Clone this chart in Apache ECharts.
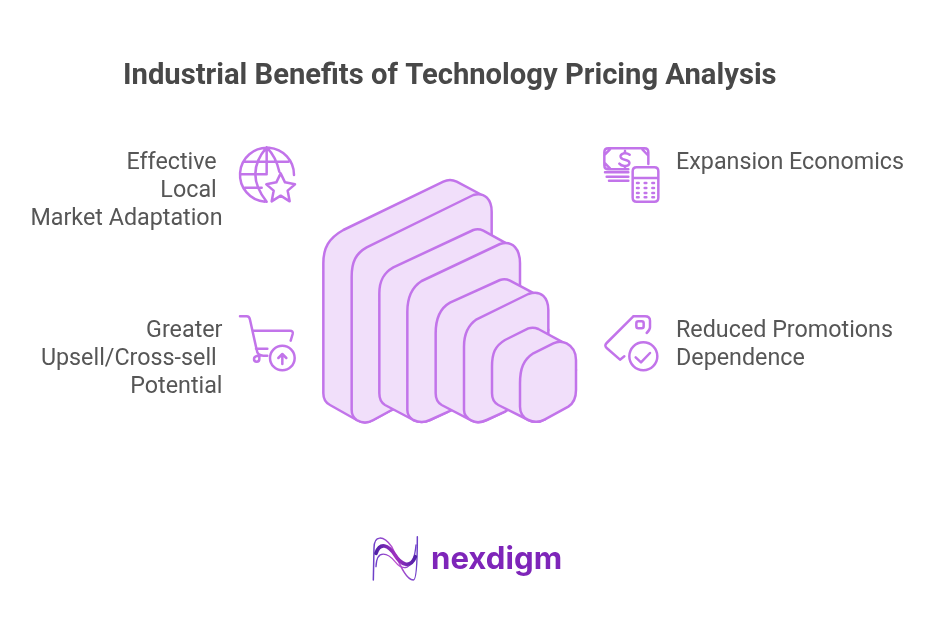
<!DOCTYPE html>
<html><head><meta charset="utf-8">
<style>html,body{margin:0;padding:0;background:#fff}#c{width:936px;height:625px}</style>
<script src="https://cdn.jsdelivr.net/npm/echarts@6/dist/echarts.min.js"></script>
</head><body><div id="c"></div>
<script>
const titleText = 'Industrial Benefits of Technology Pricing Analysis';
const leftLabels = ['Effective \nLocal \nMarket Adaptation', 'Greater\nUpsell/Cross-sell \nPotential'];
const rightLabels = ['Expansion Economics', 'Reduced Promotions\nDependence'];
const brandName = 'nexdigm';

const INK = '#C274EA', FILL = '#F1DFFA';

const blockBacks = [
 'M40 280C40 235 55 205 100 180L400 35Q420 25 440 35L510 72L545 300L245 720L190 750Q165 765 140 750L60 705Q40 695 40 670Z',
 'M208 370C208 330 222 308 250 292L490 180Q505 175 520 182L585 218L630 400L415 725L360 750Q335 762 310 750L225 705Q208 695 208 670Z',
 'M377 490C377 445 390 415 420 398L570 330Q585 325 600 332L668 368L715 480L585 725L530 750Q505 762 485 752L395 705Q377 695 377 670Z',
 'M546 590C546 550 555 528 585 510L655 475Q670 470 685 477L755 515L798 600L705 748Q680 762 655 750L565 705Q546 695 546 670Z'
];
const blockFronts = [
 'M125 320C125 275 138 250 170 232L490 75C525 65 545 90 545 125L545 640L245 720L190 750Q165 765 140 750Q125 740 125 720Z',
 'M292 425C292 380 305 352 335 333L570 222C610 210 630 240 630 280L630 640L415 725L360 750Q335 762 310 750Q292 740 292 720Z',
 'M462 530C462 490 475 465 500 448L655 372C695 358 715 385 715 420L715 640L585 725L530 750Q505 762 485 752Q462 740 462 720Z',
 'M630 640C630 595 640 570 670 550L730 520Q750 510 770 520Q798 535 798 570L798 660Q798 695 775 710L705 748Q680 762 655 750Q630 738 630 710Z'
];
const iconGlobe = 'M105 185A81 81 0 1 1 192 105M45 65L175 65M30 103L110 103M45 143L95 143M110 22L110 100M110 22Q42 100 110 185M110 22Q138 50 148 95M152 100L165 127L195 133L173 152L179 184L152 167L125 184L131 152L109 133L139 127Z';
const iconCash = 'M100 88L40 88Q28 88 28 76L28 37Q28 25 40 25L148 25Q160 25 160 37L160 72M28 45L45 28M142 28L158 45M28 68L45 85M30 97L100 97M35 110L100 110M42 122L100 122M104 44Q96 38 86 40Q75 43 77 51Q79 58 92 60Q105 63 103 71Q100 79 88 78Q78 77 73 71M90 33L90 40M90 78L90 84M125 82L178 82Q190 82 190 94L190 173Q190 185 178 185L125 185Q113 185 113 173L113 94Q113 82 125 82ZM113 114L190 114M126 129L131 129M149 129L154 129M172 129L177 129M126 144L131 144M149 144L154 144M172 144L177 144M126 159L131 159M149 159L154 159M172 159L177 159M126 172L131 172M149 172L154 172M172 172L177 172';
const iconCart = 'M30 25L50 25Q58 25 60 35L80 125Q82 143 100 143L112 143M68 68L180 68Q190 68 188 78L182 98M78 122L112 122M88 143L88 153Q88 161 80 161Q72 161 72 153Q72 143 88 143M194 150A37 37 0 1 1 120 150A37 37 0 1 1 194 150ZM157 168L157 138M145 150L157 138L169 150';
const iconTag = 'M115 25L35 105Q27 113 35 120L75 155L88 145M115 25L150 25Q165 25 165 38L165 58Q165 66 155 75M130 40L140 40Q146 40 146 46L146 55Q146 61 140 61L130 61Q124 61 124 55L124 46Q124 40 130 40ZM187 145A42 42 0 1 1 103 145A42 42 0 1 1 187 145ZM122 148L138 163L165 135';
const logoStrands = [
 {d:'M40 165L42 70C42 30 70 30 95 65C115 105 135 165 160 165Q172 165 172 35', w:4.5},
 {d:'M48 125C50 70 85 85 105 110C125 135 160 145 168 60', w:4},
 {d:'M48 85C60 50 85 60 105 90C120 115 150 135 166 95', w:11}
];

const lineShape = (d, x, y, w) => ({
  type:'path', x, y, scaleX:1/3, scaleY:1/3, silent:true,
  shape:{pathData:d},
  style:{fill:null, stroke:INK, lineWidth:w||7.5, lineJoin:'round', lineCap:'round'}
});
const grad = (a,b,c)=>new echarts.graphic.LinearGradient(0,0,1,0,[{offset:0,color:a},{offset:.5,color:b},{offset:1,color:c}]);

function drawAll(){
  const kids = [];
  blockBacks.forEach((b,i)=>{
    [b, blockFronts[i]].forEach(d=>{
      const e = lineShape(d,310,170,7.5);
      e.style.fill = FILL;
      kids.push(e);
    });
  });
  kids.push(lineShape(iconGlobe,230,140), lineShape(iconCash,595,140),
            lineShape(iconCart,230,308), lineShape(iconTag,595,308));
  logoStrands.forEach((s,i)=>{
    const e = lineShape(s.d,360,525,s.w);
    e.style.stroke = i===2 ? grad('#4A1FA5','#A030C0','#4A1FA5') : grad('#6A3FC8','#C050D0','#6A3FC8');
    kids.push(e);
  });
  return {type:'group',children:kids};
}
const label = (text,x,y,align)=>({
  type:'text', x, y, silent:true,
  style:{text, align, verticalAlign:'top', fill:'#565656', font:'400 23.3px Roboto', lineHeight:28}
});
const option = {
  animation:false,
  backgroundColor:'#fff',
  title:{text:titleText,left:118,top:57,
    textStyle:{fontFamily:'Roboto',fontWeight:700,fontSize:29.2,color:'#484848'}},
  series:[{type:'custom',coordinateSystem:'none',data:[[0]],silent:true,renderItem:drawAll}],
  graphic:{elements:[
    label(leftLabels[0],222.5,149,'right'),
    label(leftLabels[1],222.5,317,'right'),
    label(rightLabels[0],676,149,'left'),
    label(rightLabels[1],676,317,'left'),
    {type:'text',x:431,y:544,silent:true,style:{text:brandName,align:'left',verticalAlign:'top',
      fill:'#7E25B9',font:'700 31.2px Inter'}}
  ]}
};
echarts.init(document.getElementById('c'),null,{renderer:'canvas'}).setOption(option);
</script></body></html>
